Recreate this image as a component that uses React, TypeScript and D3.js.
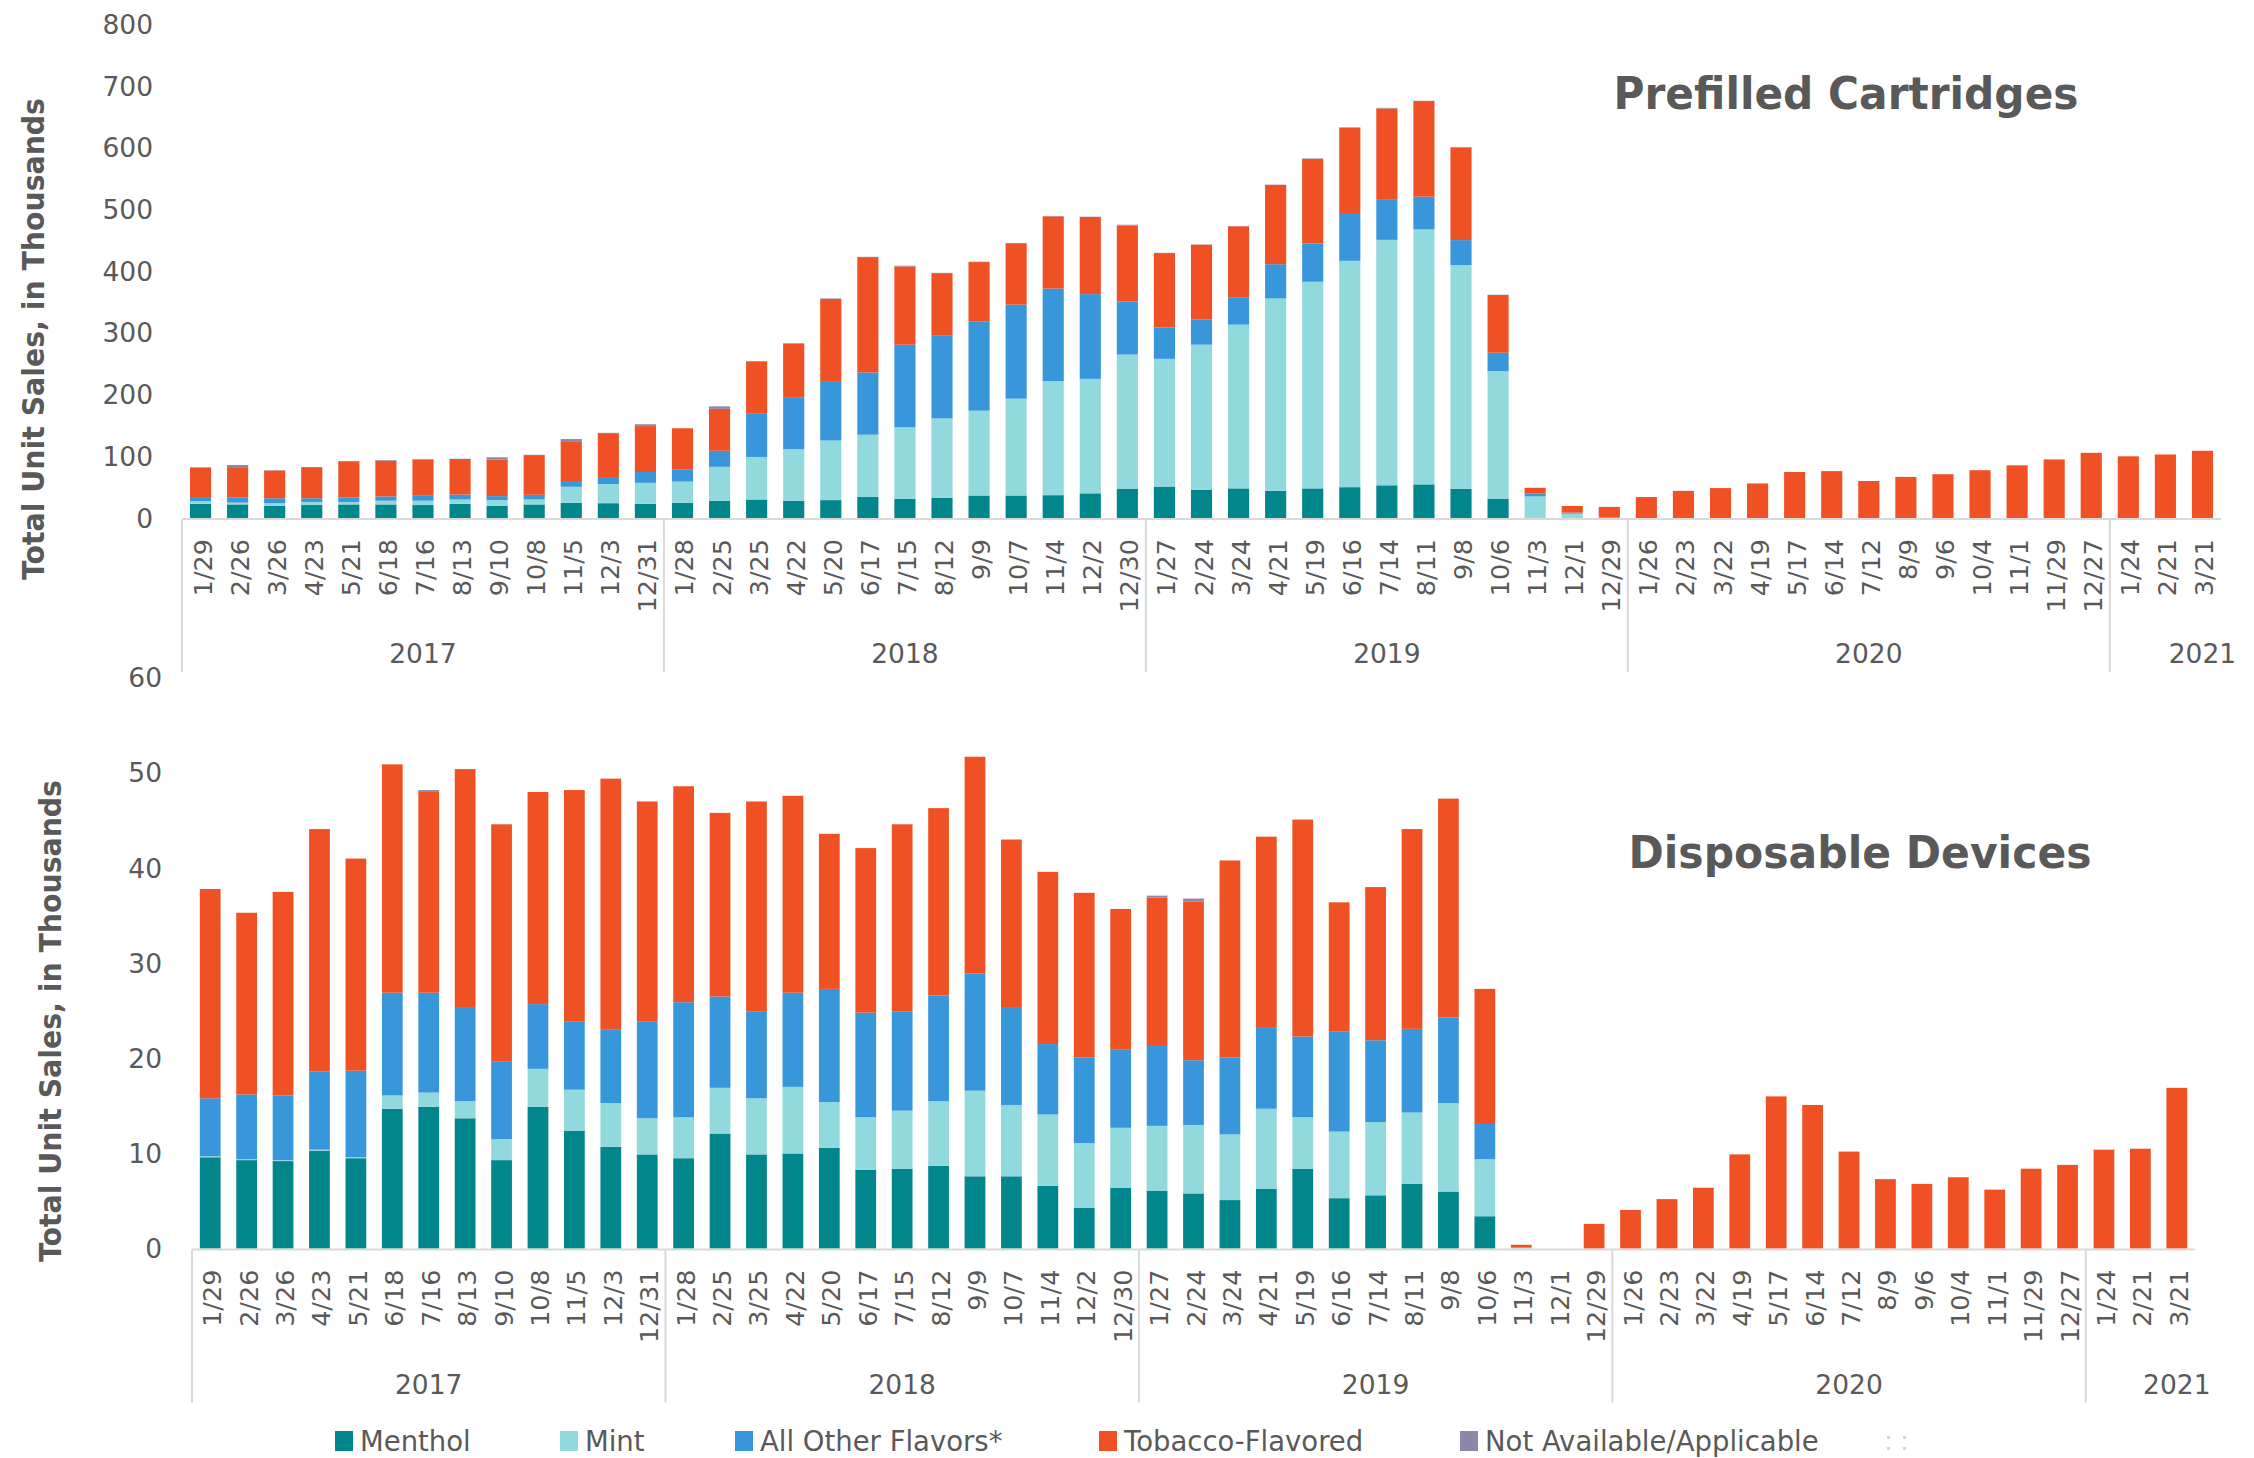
import React from 'react';
import * as d3 from 'd3';

// ---------- categories ----------
const years = ['2017', '2018', '2019', '2020', '2021'];
const dates2017 = ['1/29', '2/26', '3/26', '4/23', '5/21', '6/18', '7/16', '8/13', '9/10', '10/8', '11/5', '12/3', '12/31'];
const dates2018 = ['1/28', '2/25', '3/25', '4/22', '5/20', '6/17', '7/15', '8/12', '9/9', '10/7', '11/4', '12/2', '12/30'];
const dates2019 = ['1/27', '2/24', '3/24', '4/21', '5/19', '6/16', '7/14', '8/11', '9/8', '10/6', '11/3', '12/1', '12/29'];
const dates2020 = ['1/26', '2/23', '3/22', '4/19', '5/17', '6/14', '7/12', '8/9', '9/6', '10/4', '11/1', '11/29', '12/27'];
const dates2021 = ['1/24', '2/21', '3/21'];
const datesByYear = [dates2017, dates2018, dates2019, dates2020, dates2021];

// ---------- series ----------
const seriesKeys = ['menthol', 'mint', 'other', 'tobacco', 'na'];
const seriesNames = ['Menthol', 'Mint', 'All Other Flavors*', 'Tobacco-Flavored', 'Not Available/Applicable'];
const seriesColors = ['#00868B', '#92D9DE', '#3797DA', '#F05124', '#8C88A8'];

// Prefilled cartridges (thousands)
const cartMenthol = [23, 22, 20, 21, 22, 22, 21, 23, 20, 22, 24.6, 24, 23,
  24.5, 28, 30, 28, 29, 34, 31, 33, 36.5, 36.5, 37, 40, 47,
  51, 46, 48, 44, 48, 50, 53, 54.5, 47.4, 31.4, 0.5, 0, 0,
  0, 0, 0, 0, 0, 0, 0, 0, 0, 0, 0, 0, 0,
  0, 0, 0];
const cartMint = [4.5, 3, 4, 5, 4, 6, 7, 7, 9, 8, 26, 31, 34,
  34.5, 55, 69, 83.5, 96.6, 101, 116, 128.5, 137.5, 157, 185, 185.6, 218,
  207, 235, 265.5, 312, 335, 367, 398, 413.5, 362.6, 206.6, 34.5, 7, 0.5,
  0, 0, 0, 0, 0, 0, 0, 0, 0, 0, 0, 0, 0,
  0, 0, 0];
const cartOther = [6.5, 8, 8, 6, 7, 7, 9, 8, 6.5, 7.6, 9.4, 10, 17.6,
  20, 26, 70, 84.5, 96.4, 101, 134, 134, 145, 152.5, 150, 137.4, 86,
  51, 41, 44.5, 55.5, 62, 76, 66, 53, 40.6, 30, 5, 1.7, 0,
  0, 0, 0, 0, 0, 0, 0, 0, 0, 0, 0, 0, 0,
  0, 0, 0];
const cartTobacco = [48, 49.5, 45, 50.5, 59, 58, 58, 57.6, 59.5, 64.4, 64.5, 72.6, 74.4,
  66.5, 68, 85, 87, 133, 187, 127, 101.5, 96, 99.5, 117, 125, 123,
  120.5, 121, 115, 128.5, 137, 140, 147, 155, 150, 93.5, 9, 10.8, 17.5,
  34, 44, 48.5, 56, 74.6, 76, 60, 66.6, 71, 77.5, 85.4, 95, 105.7,
  100, 103, 109];
const cartNA = [0, 3.5, 0.5, 0, 0.5, 1, 0.5, 0.5, 3.5, 0.5, 3.5, 0.5, 3,
  0, 4, 0.5, 0.5, 1, 0.5, 1, 0.5, 0.5, 0.5, 0.5, 0.5, 1.5,
  0.5, 0.5, 0.5, 0.5, 1, 0.5, 1, 0.5, 1, 0.5, 0, 0, 0,
  0, 0, 0, 0, 0, 0, 0, 0, 0, 0, 0, 0, 0,
  0, 0, 0];

// Disposable devices (thousands)
const dispMenthol = [9.6, 9.3, 9.2, 10.3, 9.5, 14.7, 14.9, 13.7, 9.3, 14.9, 12.4, 10.7, 9.9,
  9.5, 12.1, 9.9, 10.0, 10.6, 8.3, 8.4, 8.7, 7.6, 7.6, 6.6, 4.3, 6.4,
  6.1, 5.8, 5.1, 6.3, 8.4, 5.3, 5.6, 6.8, 6.0, 3.4, 0, 0, 0,
  0, 0, 0, 0, 0, 0, 0, 0, 0, 0, 0, 0, 0,
  0, 0, 0];
const dispMint = [0.1, 0.1, 0.1, 0.1, 0.1, 1.4, 1.5, 1.8, 2.2, 4.0, 4.3, 4.6, 3.8,
  4.3, 4.8, 5.9, 7.0, 4.8, 5.5, 6.1, 6.8, 9.0, 7.5, 7.5, 6.8, 6.3,
  6.8, 7.2, 6.9, 8.4, 5.4, 7.0, 7.7, 7.5, 9.3, 6.0, 0.1, 0, 0,
  0, 0, 0, 0, 0, 0, 0, 0, 0, 0, 0, 0, 0,
  0, 0, 0];
const dispOther = [6.1, 6.8, 6.8, 8.2, 9.1, 10.8, 10.5, 9.8, 8.2, 6.8, 7.2, 7.7, 10.2,
  12.1, 9.6, 9.1, 9.9, 11.9, 11.0, 10.4, 11.1, 12.3, 10.2, 7.4, 9.0, 8.2,
  8.5, 6.8, 8.1, 8.5, 8.5, 10.5, 8.6, 8.8, 9.0, 3.7, 0, 0, 0,
  0, 0, 0, 0, 0, 0, 0, 0, 0, 0, 0, 0, 0,
  0, 0, 0];
const dispTobacco = [22.0, 19.1, 21.4, 25.5, 22.3, 24.0, 21.1, 25.1, 24.9, 22.3, 24.3, 26.4, 23.1,
  22.7, 19.3, 22.1, 20.7, 16.3, 17.3, 19.7, 19.7, 22.8, 17.7, 18.1, 17.3, 14.8,
  15.5, 16.7, 20.7, 20.1, 22.8, 13.6, 16.1, 21.0, 23.0, 14.2, 0.3, 0, 2.6,
  4.06, 5.2, 6.4, 9.9, 16.0, 15.1, 10.2, 7.3, 6.8, 7.5, 6.2, 8.4, 8.8,
  10.4, 10.5, 16.9];
const dispNA = [0, 0, 0, 0, 0, 0, 0.2, 0, 0, 0, 0, 0, 0,
  0, 0, 0, 0, 0, 0, 0, 0, 0, 0, 0, 0, 0,
  0.2, 0.3, 0, 0, 0, 0, 0, 0, 0, 0, 0, 0, 0,
  0, 0, 0, 0, 0, 0, 0, 0, 0, 0, 0, 0, 0,
  0, 0, 0];

// y ticks
const cartTicks = [0, 100, 200, 300, 400, 500, 600, 700, 800];
const dispTicks = [0, 10, 20, 30, 40, 50, 60];

// ---------- helpers ----------
const TEXT = '#595959';
const AXIS = '#D9D9D9';
const FONT = "'DejaVu Sans', Verdana, sans-serif";

const categories: { key: string; date: string; year: string }[] = [];
datesByYear.forEach((ds, yi) => ds.forEach((d) => categories.push({ key: `${years[yi]}-${d}`, date: d, year: years[yi] })));

function buildRows(arrs: number[][]) {
  return categories.map((c, i) => {
    const r: any = { key: c.key };
    seriesKeys.forEach((k, si) => { r[k] = arrs[si][i]; });
    return r;
  });
}

type PanelProps = {
  rows: any[];
  x0: number; x1: number;
  yBase: number; yTop: number; maxV: number;
  ticks: number[]; tickX: number;
  title: string; titleX: number; titleY: number; titleLen: number;
  yTitleX: number; yTitleY: number;
};

function Panel(p: PanelProps) {
  const x = d3.scaleBand<string>()
    .domain(categories.map((c) => c.key))
    .range([p.x0, p.x1])
    .paddingInner(0.43)
    .paddingOuter(0.215);
  const y = d3.scaleLinear().domain([0, p.maxV]).range([p.yBase, p.yTop]);
  const stack = d3.stack<any>().keys(seriesKeys);
  const layers = stack(p.rows);
  const step = x.step();
  const boundaries: number[] = [];
  let acc = 0;
  datesByYear.forEach((ds) => { boundaries.push(acc); acc += ds.length; });
  const sepLen = 154;

  return (
    <g>
      {layers.map((layer, li) => (
        <g key={seriesKeys[li]} fill={seriesColors[li]}>
          {layer.map((d, i) => {
            const h = y(d[0]) - y(d[1]);
            if (h <= 0) return null;
            return (
              <rect key={i} x={x(categories[i].key)!} y={y(d[1])} width={x.bandwidth()} height={h} />
            );
          })}
        </g>
      ))}
      {/* axis line */}
      <line x1={p.x0} x2={p.x1} y1={p.yBase + 1} y2={p.yBase + 1} stroke={AXIS} strokeWidth={2} />
      {/* year separators */}
      {boundaries.map((b, i) => (
        <line key={i} x1={p.x0 + b * step} x2={p.x0 + b * step} y1={p.yBase + 1} y2={p.yBase + sepLen} stroke={AXIS} strokeWidth={2} />
      ))}
      {/* date labels */}
      {categories.map((c) => (
        <text key={c.key}
          transform={`translate(${x(c.key)! + x.bandwidth() / 2 + 2},${p.yBase + 21}) rotate(-90)`}
          textAnchor="end" dominantBaseline="central"
          fontFamily={FONT} fontSize={25.5} fill={TEXT}>{c.date}</text>
      ))}
      {/* year labels */}
      {datesByYear.map((ds, yi) => {
        const extra = ds.length < 13 ? 1 : 0;
        const cx = p.x0 + (boundaries[yi] + ds.length / 2 + extra) * step;
        return (
          <text key={years[yi]} x={cx} y={p.yBase + 145} textAnchor="middle"
            fontFamily={FONT} fontSize={26.5} fill={TEXT}>{years[yi]}</text>
        );
      })}
      {/* y ticks */}
      {p.ticks.map((t) => (
        <text key={t} x={p.tickX} y={y(t)} textAnchor="end" dominantBaseline="central"
          fontFamily={FONT} fontSize={26.5} fill={TEXT}>{t}</text>
      ))}
      {/* y title */}
      <text transform={`translate(${p.yTitleX},${p.yTitleY}) rotate(-90)`} textAnchor="middle"
        fontFamily={FONT} fontWeight="bold" fontSize={31} fill={TEXT}
        textLength={482} lengthAdjust="spacingAndGlyphs">Total Unit Sales, in Thousands</text>
      {/* panel title */}
      <text x={p.titleX} y={p.titleY} textAnchor="middle" fontFamily={FONT} fontWeight="bold"
        fontSize={45} fill={TEXT} textLength={p.titleLen} lengthAdjust="spacingAndGlyphs">{p.title}</text>
    </g>
  );
}

const legendX = [335, 560, 735, 1099, 1460];

export default function App() {
  const cartRows = buildRows([cartMenthol, cartMint, cartOther, cartTobacco, cartNA]);
  const dispRows = buildRows([dispMenthol, dispMint, dispOther, dispTobacco, dispNA]);
  return (
    <div style={{ position: 'absolute', left: 0, top: 0 }}>
      <svg width={2254} height={1458} style={{ display: 'block', background: '#fff' }}>
        <Panel rows={cartRows} x0={182} x1={2221} yBase={518} yTop={24.6} maxV={800}
          ticks={cartTicks} tickX={153}
          title="Prefilled Cartridges" titleX={1846} titleY={109} titleLen={465}
          yTitleX={44} yTitleY={339} />
        <Panel rows={dispRows} x0={192} x1={2195} yBase={1248.6} yTop={677.8} maxV={60}
          ticks={dispTicks} tickX={162}
          title="Disposable Devices" titleX={1860} titleY={868} titleLen={463}
          yTitleX={61} yTitleY={1021} />
        {/* legend */}
        {seriesNames.map((n, i) => (
          <g key={n}>
            <rect x={legendX[i]} y={1431} width={18} height={20} fill={seriesColors[i]} />
            <text x={legendX[i] + 25} y={1441} dominantBaseline="central" fontFamily={FONT}
              fontSize={27.5} fill={TEXT}>{n}</text>
          </g>
        ))}
        <g fill="#D6D6D6">
          <rect x={1887} y={1436} width={3} height={3} />
          <rect x={1887} y={1447} width={3} height={3} />
          <rect x={1903} y={1436} width={3} height={3} />
          <rect x={1903} y={1447} width={3} height={3} />
        </g>
      </svg>
    </div>
  );
}
